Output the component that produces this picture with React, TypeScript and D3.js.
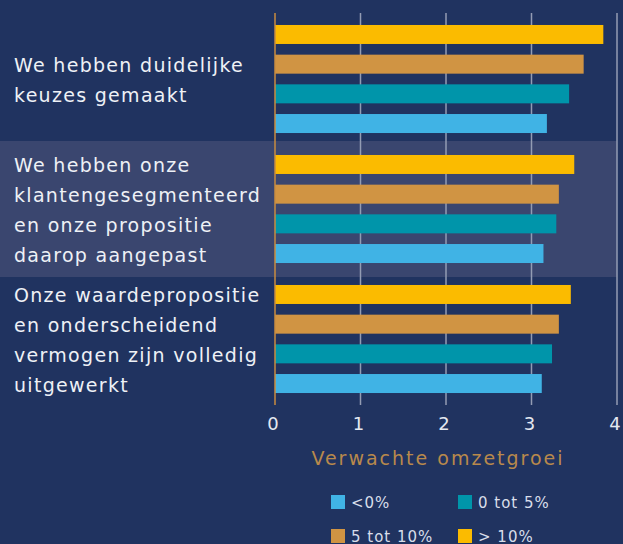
import React, { useEffect, useRef } from 'react';
import * as d3 from 'd3';

// statements (top to bottom), split into display lines
const statements = [
  'We hebben duidelijke keuzes gemaakt',
  'We hebben onze klantengesegmenteerd en onze propositie daarop aangepast',
  'Onze waardepropositie en onderscheidend vermogen zijn volledig uitgewerkt',
];
const statementLines = [
  ['We hebben duidelijke', 'keuzes gemaakt'],
  ['We hebben onze', 'klantengesegmenteerd', 'en onze propositie', 'daarop aangepast'],
  ['Onze waardepropositie', 'en onderscheidend', 'vermogen zijn volledig', 'uitgewerkt'],
];

// series, drawn top to bottom inside each group
const seriesNames = ['> 10%', '5 tot 10%', '0 tot 5%', '<0%'];
const seriesColors = ['#fbbb00', '#d09443', '#0095aa', '#40b3e5'];

// values per series, one per statement
const over10 = [3.84, 3.5, 3.46];
const from5to10 = [3.61, 3.32, 3.32];
const from0to5 = [3.44, 3.29, 3.24];
const below0 = [3.18, 3.14, 3.12];
const seriesValues = [over10, from5to10, from0to5, below0];

const xTicks = [0, 1, 2, 3, 4];
const axisTitle = 'Verwachte omzetgroei';
// legend order as shown in the picture
const legendOrder = ['<0%', '0 tot 5%', '5 tot 10%', '> 10%'];

const W = 623;
const H = 544;

const App = () => {
  const svgRef = useRef<SVGSVGElement>(null);

  useEffect(() => {
    const svg = d3.select(svgRef.current);
    svg.selectAll('*').remove();

    const font = "'DejaVu Sans', sans-serif";

    svg.append('rect').attr('width', W).attr('height', H).attr('fill', '#203360');

    const x = d3.scaleLinear().domain([0, 4]).range([275, 617]);
    const y = d3.scaleBand().domain(statements).range([14, 404]);
    const inner = d3
      .scaleBand()
      .domain(seriesNames)
      .range([0, y.bandwidth()])
      .paddingInner(0.36)
      .paddingOuter(0.37);

    // highlighted middle band
    svg
      .append('rect')
      .attr('x', 0)
      .attr('y', (y(statements[1]) as number) - 3)
      .attr('width', x(4))
      .attr('height', y.bandwidth() + 6)
      .attr('fill', '#3a466f');

    // gridlines
    svg
      .append('g')
      .selectAll('line')
      .data(xTicks.slice(1))
      .enter()
      .append('line')
      .attr('x1', (d) => x(d))
      .attr('x2', (d) => x(d))
      .attr('y1', 13)
      .attr('y2', 405)
      .attr('stroke', '#939cb3')
      .attr('stroke-width', 1.5);

    // bars
    seriesNames.forEach((s, si) => {
      svg
        .append('g')
        .selectAll('rect')
        .data(seriesValues[si])
        .enter()
        .append('rect')
        .attr('x', x(0))
        .attr('y', (d, i) => (y(statements[i]) as number) + (inner(s) as number))
        .attr('width', (d) => x(d) - x(0))
        .attr('height', inner.bandwidth())
        .attr('fill', seriesColors[si]);
    });

    // zero axis line
    svg
      .append('line')
      .attr('x1', x(0))
      .attr('x2', x(0))
      .attr('y1', 13)
      .attr('y2', 405)
      .attr('stroke', '#c98d3f')
      .attr('stroke-width', 1.5);

    // tick labels
    svg
      .append('g')
      .selectAll('text')
      .data(xTicks)
      .enter()
      .append('text')
      .attr('x', (d) => x(d) - 2)
      .attr('y', 430)
      .attr('text-anchor', 'middle')
      .attr('font-family', font)
      .attr('font-size', 18)
      .attr('fill', '#e4e8f0')
      .text((d) => d);

    // axis title
    svg
      .append('text')
      .attr('x', (x(0) + x(4)) / 2 - 8)
      .attr('y', 465)
      .attr('text-anchor', 'middle')
      .attr('font-family', font)
      .attr('font-size', 19)
      .attr('letter-spacing', 2)
      .attr('fill', '#b8894c')
      .text(axisTitle);

    // statement labels
    statements.forEach((st, gi) => {
      const lines = statementLines[gi];
      const c = (y(st) as number) + y.bandwidth() / 2 + 8;
      svg
        .append('g')
        .selectAll('text')
        .data(lines)
        .enter()
        .append('text')
        .attr('x', 14)
        .attr('y', (d, i) => c + (i - (lines.length - 1) / 2) * 29.7)
        .attr('font-family', font)
        .attr('font-size', 19)
        .attr('letter-spacing', 1.3)
        .attr('fill', '#eef1f6')
        .text((d) => d);
    });

    // legend
    const legend = svg.append('g');
    legendOrder.forEach((name, i) => {
      const col = i % 2;
      const row = Math.floor(i / 2);
      const lx = 331 + col * 127;
      const ly = 495 + row * 34;
      const g = legend.append('g').attr('transform', `translate(${lx},${ly})`);
      g.append('rect')
        .attr('width', 14)
        .attr('height', 14)
        .attr('fill', seriesColors[seriesNames.indexOf(name)]);
      g.append('text')
        .attr('x', 20)
        .attr('y', 12.5)
        .attr('font-family', font)
        .attr('font-size', 15)
        .attr('letter-spacing', 1)
        .attr('fill', '#d8deea')
        .text(name);
    });
  }, []);

  return (
    <svg
      ref={svgRef}
      width={W}
      height={H}
      style={{ position: 'absolute', left: 0, top: 0, display: 'block' }}
    ></svg>
  );
};

export default App;
